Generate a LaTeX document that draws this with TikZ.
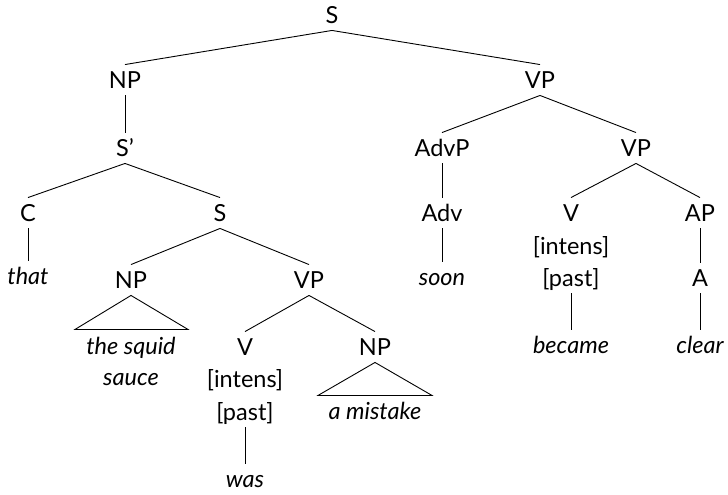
\documentclass[tikz,border=0pt]{standalone}
\usepackage{fontspec}
\setmainfont{Lato}
\begin{document}
\begin{tikzpicture}[x=1pt,y=-1pt,line width=0.9pt,
  lab/.style={font=\fontsize{23.5}{23.5}\selectfont, text height=17pt, text depth=0pt, inner xsep=1pt, inner ysep=6.5pt},
  word/.style={lab, font=\fontsize{23.5}{23.5}\selectfont\itshape}]
\useasboundingbox (0,0) rectangle (728,495);
% left half
\node[lab] (S) at (332,15) {S};
\node[lab] (NP) at (125,80) {NP};
\node[lab] (Sp) at (125,148) {S’};
\node[lab] (C) at (28,213) {C};
\node[word] (that) at (28,276) {that};
\node[lab] (S2) at (220,213) {S};
\node[lab] (NP2) at (131,280) {NP};
\node[word] (squid) at (131,346) {the squid};
\node[word] (sauce) at (131,377) {sauce};
\node[lab] (VP2) at (309,280) {VP};
\node[lab] (V2) at (245,347) {V};
\node[lab] (int2) at (245,379) {[intens]};
\node[lab] (past2) at (245,412) {[past]};
\node[word] (was) at (245,479) {was};
\node[lab] (NP3) at (375,347) {NP};
\node[word] (mist) at (375,411) {a mistake};
% right half
\node[lab] (VP) at (540,80) {VP};
\node[lab] (AdvP) at (442,148) {AdvP};
\node[lab] (Adv) at (442,213) {Adv};
\node[word] (soon) at (442,277) {soon};
\node[lab] (VP3) at (636,148) {VP};
\node[lab] (V3) at (571,213) {V};
\node[lab] (int3) at (571,246) {[intens]};
\node[lab] (past3) at (571,278) {[past]};
\node[word] (became) at (571,345) {became};
\node[lab] (AP) at (700,213) {AP};
\node[lab] (A) at (700,278) {A};
\node[word] (clear) at (700,345) {clear};
% edges
\draw (S.south) -- (NP.north);
\draw (S.south) -- (VP.north);
\draw (NP.south) -- (Sp.north);
\draw (Sp.south) -- (C.north);
\draw (Sp.south) -- (S2.north);
\draw (C.south) -- (that.north);
\draw (S2.south) -- (NP2.north);
\draw (S2.south) -- (VP2.north);
\draw (NP2.south) -- ++(-56,34) -- ++(113,0) -- cycle;
\draw (VP2.south) -- (V2.north);
\draw (VP2.south) -- (NP3.north);
\draw (past2.south) -- (was.north);
\draw (NP3.south) -- ++(-57,33) -- ++(114,0) -- cycle;
\draw (VP.south) -- (AdvP.north);
\draw (VP.south) -- (VP3.north);
\draw (AdvP.south) -- (Adv.north);
\draw (Adv.south) -- (soon.north);
\draw (VP3.south) -- (V3.north);
\draw (VP3.south) -- (AP.north);
\draw (past3.south) -- (became.north);
\draw (AP.south) -- (A.north);
\draw (A.south) -- (clear.north);
\end{tikzpicture}
\end{document}
